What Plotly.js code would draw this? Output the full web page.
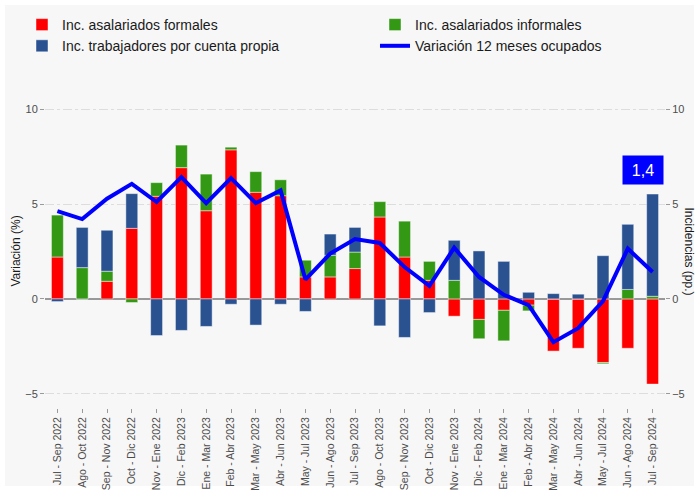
<!DOCTYPE html>
<html>
<head>
<meta charset="utf-8">
<script src="https://cdn.plot.ly/plotly-3.0.1.min.js"></script>
<style>
html,body{margin:0;padding:0;background:#ffffff;}
#chart{width:699px;height:491px;}
</style>
</head>
<body>
<div id="chart"></div>
<script>
var categories = ["Jul - Sep 2022","Ago - Oct 2022","Sep - Nov 2022","Oct - Dic 2022","Nov - Ene 2022","Dic - Feb 2023","Ene - Mar 2023","Feb - Abr 2023","Mar - May 2023","Abr - Jun 2023","May - Jul 2023","Jun - Ago 2023","Jul - Sep 2023","Ago - Oct 2023","Sep - Nov 2023","Oct - Dic 2023","Nov - Ene 2023","Dic - Feb 2024","Ene - Mar 2024","Feb - Abr 2024","Mar - May 2024","Abr - Jun 2024","May - Jul 2024","Jun - Ago 2024","Jul - Sep 2024"];

var asalariadosFormales = [2.21, 0, 0.93, 3.72, 5.41, 6.92, 4.65, 7.86, 5.62, 5.44, 1.16, 1.16, 1.6, 4.32, 2.21, 0.98, -0.91, -1.08, -0.6, -0.33, -2.75, -2.6, -3.35, -2.6, -4.49];
var asalariadosInformales = [2.21, 1.65, 0.53, -0.19, 0.72, 1.19, 1.93, 0.14, 1.09, 0.84, 0.88, 1.14, 0.87, 0.81, 1.89, 1.0, 0.98, -1.02, -1.61, -0.3, 0, 0, -0.07, 0.5, 0.14];
var cuentaPropia = [-0.14, 2.12, 2.16, 1.83, -1.93, -1.66, -1.45, -0.28, -1.38, -0.28, -0.66, 1.12, 1.3, -1.42, -2.03, -0.72, 2.11, 2.53, 1.98, 0.35, 0.28, 0.25, 2.28, 3.43, 5.39];
var variacionOcupados = [4.63, 4.21, 5.28, 6.07, 5.11, 6.42, 5.05, 6.37, 5.05, 5.72, 1.02, 2.39, 3.16, 2.95, 1.68, 0.69, 2.7, 1.16, 0.22, -0.33, -2.28, -1.54, -0.11, 2.65, 1.42];

var yTicks = [-5, 0, 5, 10];

var FONT = "Liberation Sans, Arial, sans-serif";
var edge = {color: "rgba(255,255,255,0.45)", width: 1};

var traces = [
  {type: "bar", x: categories, y: asalariadosFormales, name: "Inc. asalariados formales",
   marker: {color: "#ff0000", line: edge}, legend: "legend", hoverinfo: "skip"},
  {type: "bar", x: categories, y: asalariadosInformales, name: "Inc. asalariados informales",
   marker: {color: "#339914", line: edge}, legend: "legend2", hoverinfo: "skip"},
  {type: "bar", x: categories, y: cuentaPropia, name: "Inc. trabajadores por cuenta propia",
   marker: {color: "#2a5291", line: edge}, legend: "legend", hoverinfo: "skip"},
  {type: "scatter", mode: "lines", x: categories, y: variacionOcupados, yaxis: "y2",
   name: "Variación 12 meses ocupados", line: {color: "#0000ff", width: 4},
   legend: "legend2", hoverinfo: "skip"}
];

var lastIdx = variacionOcupados.length - 1;
var lastLabel = variacionOcupados[lastIdx].toFixed(1).replace(".", ",");

var yRange = [-5.75, 10.75];
var axisCommon = {
  range: yRange, tickmode: "array", tickvals: yTicks, ticks: "outside", ticklen: 4, tickcolor: "#9a9a9a",
  tickfont: {family: FONT, size: 11, color: "#4d4d4d"}, fixedrange: true, automargin: false
};

var layout = {
  width: 699, height: 491,
  margin: {l: 45, r: 34, t: 95, b: 83, autoexpand: false},
  paper_bgcolor: "#ffffff",
  plot_bgcolor: "#f7f7f7",
  barmode: "relative",
  bargap: 0.52,
  font: {family: FONT, color: "#1a1a1a"},
  xaxis: {
    type: "category", range: [-0.5, categories.length - 0.5],
    tickmode: "array", tickvals: categories, automargin: false,
    tickangle: -90, ticks: "outside", ticklen: 4, tickcolor: "#9a9a9a",
    tickfont: {family: FONT, size: 10.5, color: "#4d4d4d"},
    showgrid: false, zeroline: false, showline: false
  },
  yaxis: Object.assign({}, axisCommon, {
    showgrid: true, gridcolor: "#dddddd", griddash: "dashdot", gridwidth: 1,
    zeroline: true, zerolinecolor: "#999999", zerolinewidth: 2.5, showline: false
  }),
  yaxis2: Object.assign({}, axisCommon, {
    overlaying: "y", side: "right", showgrid: false, zeroline: false, showline: false
  }),
  legend: {
    xref: "container", yref: "container", x: 22 / 699, y: 1 - 9 / 491,
    xanchor: "left", yanchor: "top", orientation: "v", bgcolor: "rgba(0,0,0,0)",
    font: {family: FONT, size: 14, color: "#1a1a1a"}, traceorder: "normal"
  },
  legend2: {
    xref: "container", yref: "container", x: 375 / 699, y: 1 - 9 / 491,
    xanchor: "left", yanchor: "top", orientation: "v", bgcolor: "rgba(0,0,0,0)",
    font: {family: FONT, size: 14, color: "#1a1a1a"}, traceorder: "normal"
  },
  shapes: [{
    type: "rect", xref: "paper", yref: "paper", layer: "below",
    x0: (5 - 45) / 620, x1: (694 - 45) / 620, y0: (408 - 486) / 313, y1: (408 - 5) / 313,
    fillcolor: "#f7f7f7", line: {width: 0}
  }],
  annotations: [
    {xref: "paper", yref: "paper", x: (15 - 45) / 620, y: 0.5, xanchor: "center", yanchor: "middle",
     text: "Variación (%)", textangle: -90, showarrow: false,
     font: {family: FONT, size: 12, color: "#1a1a1a"}},
    {xref: "paper", yref: "paper", x: (689 - 45) / 620, y: 0.5, xanchor: "center", yanchor: "middle",
     text: "Incidencias (pp.)", textangle: 90, showarrow: false,
     font: {family: FONT, size: 12, color: "#1a1a1a"}},
    {xref: "x", yref: "y", x: categories[lastIdx], y: 6.8, xshift: -10, text: lastLabel,
     showarrow: false, bgcolor: "#0000ff", width: 38, height: 26,
     font: {family: FONT, size: 16, color: "#ffffff"}}
  ],
  showlegend: true
};

Plotly.newPlot("chart", traces, layout, {displayModeBar: false, staticPlot: true});
</script>
</body>
</html>
